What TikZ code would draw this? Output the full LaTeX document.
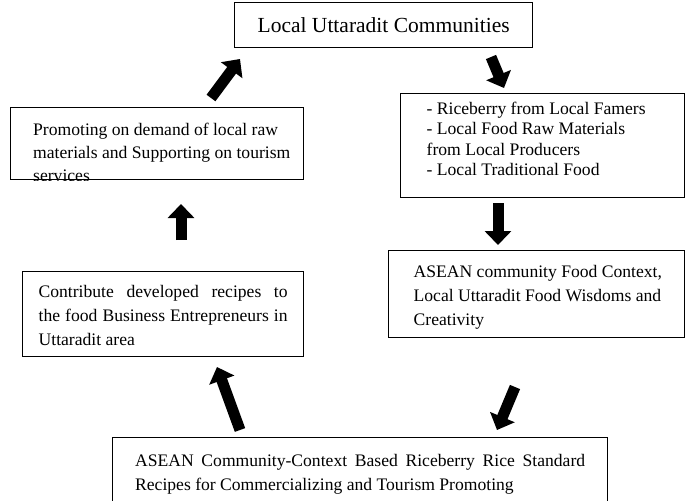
\documentclass[tikz,border=0pt]{standalone}
\usepackage{fontspec}
\setmainfont{Liberation Serif}
\usetikzlibrary{arrows.meta}
% fixed-size text area: width, height, top padding, content
\newcommand\boxtext[4]{\parbox[c][#2][t]{#1}{\vspace*{#3}#4}}
\begin{document}
\begin{tikzpicture}[x=1pt,y=-1pt,
  box/.style={draw, line width=1.3pt, rectangle, inner sep=0pt, anchor=north west},
  body/.style={font=\fontsize{17.6}{20.5}\selectfont},
  flow/.style={line width=11pt, -{Triangle[width=26pt,length=14pt]}},
]
\useasboundingbox (0,0) rectangle (689,501);

% boxes
\node[box, minimum width=298pt, minimum height=45pt,
      font=\fontsize{21.5}{24}\selectfont] (top) at (234,2) {Local Uttaradit Communities};

\node[box, body, minimum width=284pt] (r1) at (400,93)
  {\boxtext{232pt}{104pt}{8pt}{\raggedright
   \mbox{- Riceberry from Local Famers}\\
   \mbox{- Local Food Raw Materials}\\
   \mbox{from Local Producers}\\
   \mbox{- Local Traditional Food}}};

\node[box, body, minimum width=296pt] (r2) at (388,250)
  {\boxtext{246pt}{87pt}{15pt}{\raggedright\baselineskip=24pt
   \mbox{ASEAN community Food Context,}\\
   \mbox{Local Uttaradit Food Wisdoms and}\\
   \mbox{Creativity}}};

\node[box, body, minimum width=495pt] (bot) at (112,437)
  {\boxtext{450pt}{100pt}{17pt}{\baselineskip=24pt
   ASEAN Community-Context Based Riceberry Rice Standard\linebreak
   Recipes for Commercializing and Tourism Promoting}};

\node[box, body, minimum width=281pt] (ll) at (22,271)
  {\boxtext{249pt}{85pt}{14pt}{\baselineskip=24pt
   Contribute developed recipes to\linebreak
   the food Business Entrepreneurs in\linebreak
   Uttaradit area}};

\node[box, minimum width=293pt, minimum height=72pt] (ul) at (10,107) {};
% overflowing text is cut at the frame
\begin{scope}
  \clip (ul.north west) rectangle (ul.south east);
  \node[anchor=north west, inner sep=0pt, body] (ultext)
    at ([xshift=23pt, yshift=-16pt]ul.north west)
    {\parbox[t]{260pt}{\raggedright\baselineskip=23pt
      \mbox{Promoting on demand of local raw}\\
      \mbox{materials and Supporting on tourism}\\
      \mbox{services}}};
\end{scope}

% block arrows
\coordinate (a1s) at (491,57);  \coordinate (a1e) at (504,88);
\coordinate (a2s) at (498,203); \coordinate (a2e) at (498,245);
\coordinate (a3s) at (515,387); \coordinate (a3e) at (497,430);
\coordinate (a4s) at (240,430); \coordinate (a4e) at (217,367);
\coordinate (a5s) at (181,240); \coordinate (a5e) at (181,204);
\coordinate (a6s) at (211,98);  \coordinate (a6e) at (240,59);

\draw[flow] (a1s) -- (a1e);
\draw[flow] (a2s) -- (a2e);
\draw[flow] (a3s) -- (a3e);
\draw[flow] (a4s) -- (a4e);
\draw[flow] (a5s) -- (a5e);
\draw[flow] (a6s) -- (a6e);
\end{tikzpicture}
\end{document}
